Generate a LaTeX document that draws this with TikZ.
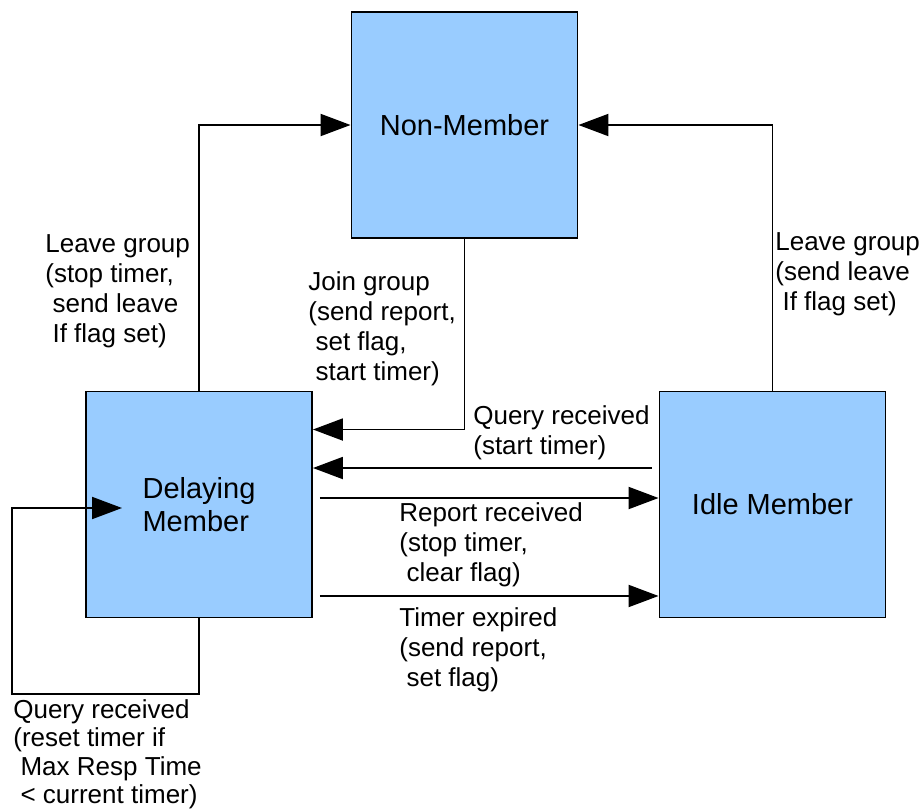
\documentclass[tikz,border=0pt]{standalone}
\usepackage{fontspec}
\setmainfont{Liberation Sans}
\usetikzlibrary{arrows.meta}
\definecolor{statefill}{HTML}{99CCFF}

\begin{document}
\begin{tikzpicture}[x=0.02cm,y=-0.02cm,
state/.style={draw,line width=1.1pt,fill=statefill,minimum width=4.52cm,
  minimum height=4.52cm,align=left,font=\fontsize{16.5pt}{18.5pt}\selectfont},
arr/.style={line width=1.1pt,-{Triangle[length=0.6cm,width=0.44cm]}},
lbl/.style={anchor=north west,inner sep=0pt,align=left,
  font=\fontsize{14.8pt}{17.1pt}\selectfont},
]
\useasboundingbox (0,0) rectangle (924,809);

% states
\node[state] (nonmember) at (464.5,125) {Non-Member};
\node[state] (delaying) at (199,504.5) {Delaying\\Member};
\node[state] (idle) at (772.5,504.5) {Idle Member};

% transitions
\draw[arr] (delaying.north) |- (nonmember.west);
\draw[arr] (idle.north) |- (nonmember.east);
\draw[arr] (nonmember.south) |- ([yshift=1.5cm]delaying.east);
\coordinate (qstart) at ([xshift=-0.14cm,yshift=0.73cm]idle.west);
\draw[arr] (qstart) -- (qstart -| delaying.east);
\draw[arr] ([xshift=0.14cm,yshift=0.13cm]delaying.east) -- ([yshift=0.13cm]idle.west);
\draw[arr] ([xshift=0.14cm,yshift=-1.83cm]delaying.east) -- ([yshift=-1.83cm]idle.west);
\coordinate (loopin) at ([xshift=-1.54cm,yshift=-0.07cm]delaying.center);
\draw[arr] (delaying.south) -- ++(0,76) -- ++(-187,0) |- (loopin);

% labels
\node[lbl] (leaveL) at (45,234) {Leave group\\(stop timer,\\~send leave\\~If flag set)};
\node[lbl] (join) at (308,271) {Join group\\(send report,\\~set flag,\\~start timer)};
\node[lbl] (leaveR) at (775,232) {Leave group\\(send leave\\~If flag set)};
\node[lbl] (query) at (473,405) {Query received\\(start timer)};
\node[lbl] (report) at (399,502) {Report received\\(stop timer,\\~clear flag)};
\node[lbl] (expired) at (399,607) {Timer expired\\(send report,\\~set flag)};
\node[lbl,font=\fontsize{14.8pt}{16.2pt}\selectfont] (reset) at (13,699)
  {Query received\\(reset timer if\\~Max Resp Time\\~< current timer)};
\end{tikzpicture}
\end{document}
